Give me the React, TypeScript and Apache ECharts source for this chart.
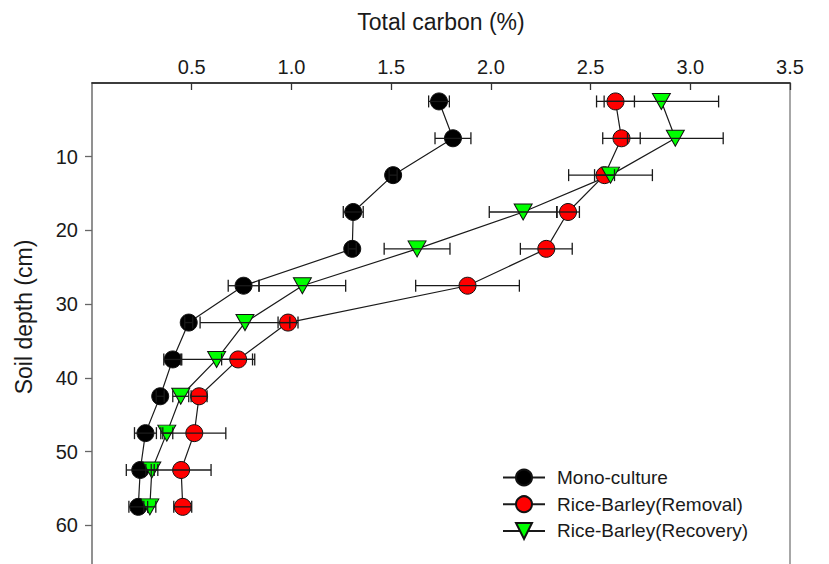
import { useEffect, useRef } from "react";
import * as echarts from "echarts";

const depths = [2.5, 7.5, 12.5, 17.5, 22.5, 27.5, 32.5, 37.5, 42.5, 47.5, 52.5, 57.5];

const monoValues = [1.74, 1.81, 1.51, 1.31, 1.305, 0.76, 0.485, 0.405, 0.342, 0.268, 0.242, 0.232];
const monoErrors = [0.052, 0.09, 0.02, 0.05, 0.02, 0.077, 0.02, 0.045, 0.02, 0.055, 0.07, 0.047];

const removalValues = [2.625, 2.655, 2.57, 2.387, 2.278, 1.883, 0.983, 0.733, 0.537, 0.513, 0.447, 0.455];
const removalErrors = [0.095, 0.094, 0.05, 0.057, 0.13, 0.26, 0.05, 0.083, 0.04, 0.158, 0.15, 0.045];

const recoveryValues = [2.855, 2.925, 2.6, 2.162, 1.63, 1.055, 0.767, 0.625, 0.445, 0.375, 0.3, 0.29];
const recoveryErrors = [0.287, 0.24, 0.21, 0.17, 0.165, 0.217, 0.225, 0.18, 0.04, 0.03, 0.03, 0.03];

const seriesNames = ["Mono-culture", "Rice-Barley(Removal)", "Rice-Barley(Recovery)"];

const FONT = "'Liberation Sans', Arial, sans-serif";

export default function App() {
  const ref = useRef<HTMLDivElement>(null);

  useEffect(() => {
    document.body.style.margin = "0";
    const chart = echarts.init(ref.current!, null, { renderer: "svg" });

    const lineSeries = (name: string, vals: number[], symbol: string, color: string, size: any, rotate = 0) => ({
      type: "line",
      name,
      data: vals.map((v, i) => [v, depths[i]]),
      symbol,
      symbolSize: size,
      symbolRotate: rotate,
      showAllSymbol: true,
      lineStyle: { color: "#1a1a1a", width: 1.2 },
      itemStyle: { color, borderColor: "#111", borderWidth: 1 },
      z: 2,
    });

    const errSeries = (name: string, vals: number[], errs: number[]) => ({
      type: "custom",
      name: name + " error",
      z: 3,
      silent: true,
      encode: { x: [0, 1], y: 2 },
      data: vals.map((v, i) => [v - errs[i], v + errs[i], depths[i]]),
      renderItem: (_params: any, api: any) => {
        const lo = api.coord([api.value(0), api.value(2)]);
        const hi = api.coord([api.value(1), api.value(2)]);
        const cap = 6;
        const style = { stroke: "#1a1a1a", lineWidth: 1.3 };
        return {
          type: "group",
          children: [
            { type: "line", shape: { x1: lo[0], y1: lo[1], x2: hi[0], y2: hi[1] }, style },
            { type: "line", shape: { x1: lo[0], y1: lo[1] - cap, x2: lo[0], y2: lo[1] + cap }, style },
            { type: "line", shape: { x1: hi[0], y1: hi[1] - cap, x2: hi[0], y2: hi[1] + cap }, style },
          ],
        };
      },
    });

    chart.setOption({
      animation: false,
      backgroundColor: "#ffffff",
      grid: {
        left: 92,
        top: 83,
        width: 698,
        height: 516,
        outerBoundsMode: "none",
        containLabel: false,
        show: true,
        borderColor: "#8a8a8a",
        borderWidth: 1.5,
        backgroundColor: "transparent",
      },
      xAxis: {
        type: "value",
        position: "top",
        min: 0,
        max: 3.5,
        interval: 0.5,
        axisLine: { show: true, lineStyle: { color: "#1a1a1a", width: 1.5 } },
        axisTick: { show: true, inside: true, length: 7, lineStyle: { color: "#333", width: 1.3 } },
        axisLabel: {
          formatter: (v: number) => v.toFixed(1),
          showMinLabel: false,
          showMaxLabel: true,
          fontSize: 20,
          color: "#1a1a1a",
          fontFamily: FONT,
          margin: 6,
        },
        splitLine: { show: false },
      },
      yAxis: {
        type: "value",
        inverse: true,
        min: 0,
        max: 70,
        interval: 10,
        axisLine: { show: true, lineStyle: { color: "#8a8a8a", width: 1.5 } },
        axisTick: { show: true, inside: false, length: 7, lineStyle: { color: "#666", width: 1.3 } },
        axisLabel: {
          showMinLabel: false,
          showMaxLabel: false,
          fontSize: 20,
          color: "#1a1a1a",
          fontFamily: FONT,
          margin: 14,
        },
        splitLine: { show: false },
      },
      legend: {
        data: seriesNames,
        orient: "vertical",
        left: 497,
        top: 463,
        itemWidth: 42,
        itemHeight: 20,
        itemGap: 7.7,
        textStyle: { fontSize: 19, color: "#1a1a1a", fontFamily: FONT, padding: [0, 0, 0, 7] },
      },
      graphic: [
        {
          type: "text",
          x: 441,
          y: 22,
          style: {
            text: "Total carbon (%)",
            fontSize: 23,
            fontFamily: FONT,
            fill: "#1a1a1a",
            textAlign: "center",
            textVerticalAlign: "middle",
          },
        },
        {
          type: "text",
          x: 24,
          y: 317,
          rotation: Math.PI / 2,
          style: {
            text: "Soil depth (cm)",
            fontSize: 23,
            fontFamily: FONT,
            fill: "#1a1a1a",
            textAlign: "center",
            textVerticalAlign: "middle",
          },
        },
      ],
      series: [
        lineSeries(seriesNames[0], monoValues, "circle", "#000000", 17),
        lineSeries(seriesNames[1], removalValues, "circle", "#ff0000", 17),
        lineSeries(seriesNames[2], recoveryValues, "triangle", "#00ff00", [18, 16], 180),
        errSeries(seriesNames[0], monoValues, monoErrors),
        errSeries(seriesNames[1], removalValues, removalErrors),
        errSeries(seriesNames[2], recoveryValues, recoveryErrors),
      ],
    });

    return () => chart.dispose();
  }, []);

  return <div ref={ref} style={{ width: 829, height: 564 }} />;
}
